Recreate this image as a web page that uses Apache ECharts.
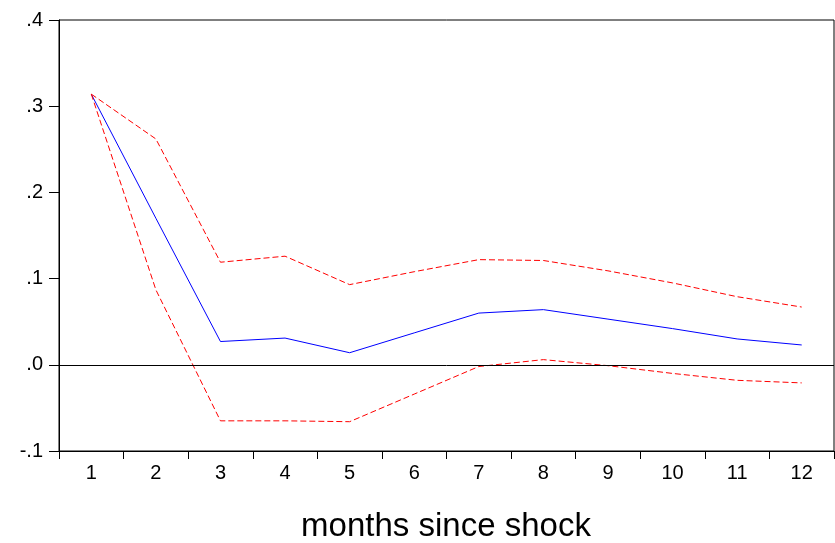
<!DOCTYPE html>
<html>
<head>
<meta charset="utf-8">
<script src="https://cdn.jsdelivr.net/npm/echarts@6/dist/echarts.min.js"></script>
<style>
html,body{margin:0;padding:0;background:#fff;}
#chart{width:835px;height:543px;}
</style>
</head>
<body>
<div id="chart"></div>
<script>
const categories = ['1','2','3','4','5','6','7','8','9','10','11','12'];
const response = [0.314, 0.170, 0.027, 0.031, 0.014, 0.037, 0.060, 0.064, 0.053, 0.042, 0.030, 0.023];
const upperBand = [0.314, 0.262, 0.119, 0.126, 0.093, 0.108, 0.122, 0.121, 0.109, 0.095, 0.079, 0.067];
const lowerBand = [0.314, 0.087, -0.065, -0.065, -0.066, -0.034, -0.002, 0.006, -0.001, -0.010, -0.018, -0.021];
const xTitle = 'months since shock';

const FONT = 'Liberation Sans, Arial, sans-serif';
const chart = echarts.init(document.getElementById('chart'));
chart.setOption({
  backgroundColor: '#fff',
  animation: false,
  grid: { left: 59, right: 1, top: 20, bottom: 92, show: true, borderColor: '#000', borderWidth: 1, containLabel: false },
  xAxis: {
    type: 'category',
    data: categories,
    boundaryGap: true,
    axisLine: { onZero: false, lineStyle: { color: '#000', width: 1 } },
    axisTick: { show: true, length: 8, interval: 0, lineStyle: { color: '#000' } },
    axisLabel: { color: '#000', fontSize: 20, fontFamily: FONT, margin: 12, interval: 0 },
    splitLine: { show: false }
  },
  yAxis: {
    type: 'value',
    min: -0.1, max: 0.4, interval: 0.1,
    axisLine: { show: true, lineStyle: { color: '#000', width: 1 } },
    axisTick: { show: true, length: 10, lineStyle: { color: '#000' } },
    axisLabel: {
      color: '#000', fontSize: 20, fontFamily: FONT, margin: 16,
      formatter: v => (Math.round(v * 10) / 10).toFixed(1).replace('0.', '.')
    },
    splitLine: { show: false }
  },
  series: [
    {
      type: 'line', data: response, symbol: 'none', silent: true,
      lineStyle: { color: '#0000ff', width: 1 },
      markLine: {
        silent: true, symbol: 'none', label: { show: false },
        lineStyle: { color: '#000', width: 1, type: 'solid' },
        data: [{ yAxis: 0 }]
      }
    },
    {
      type: 'line', data: upperBand, symbol: 'none', silent: true,
      lineStyle: { color: '#ff0000', width: 1, type: [6, 3] }
    },
    {
      type: 'line', data: lowerBand, symbol: 'none', silent: true,
      lineStyle: { color: '#ff0000', width: 1, type: [6, 3] }
    }
  ],
  graphic: [{
    type: 'text', x: 446, y: 527,
    style: { text: xTitle, font: '33px ' + FONT, fill: '#000', textAlign: 'center', textVerticalAlign: 'middle' }
  }]
});
</script>
</body>
</html>
